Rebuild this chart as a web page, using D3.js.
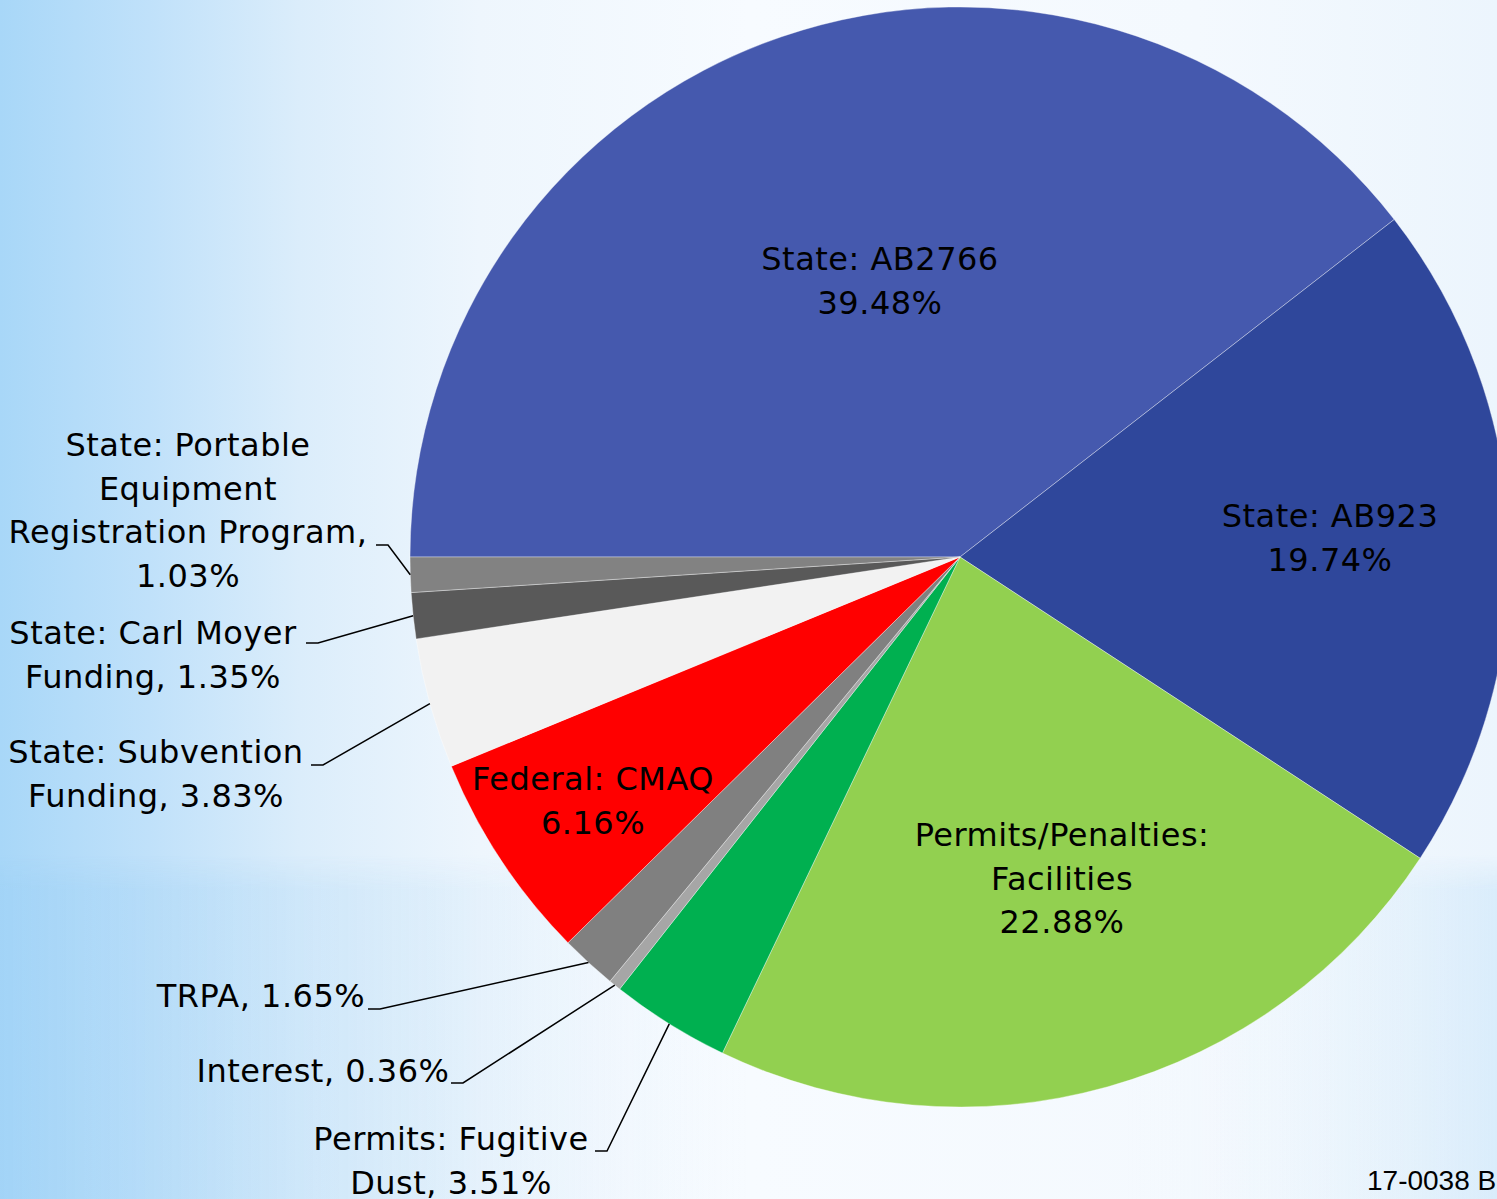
<!DOCTYPE html>
<html>
<head>
<meta charset="utf-8">
<script src="https://cdn.jsdelivr.net/npm/d3@7"></script>
<style>
  html, body { margin: 0; padding: 0; overflow: hidden; }
  svg { display: block; }
</style>
</head>
<body>
<svg width="1497" height="1199"></svg>
<script>
// slice data, clockwise from 9 o'clock
const categories = [
    "State: AB2766",
    "State: AB923",
    "Permits/Penalties: Facilities",
    "Permits: Fugitive Dust",
    "Interest",
    "TRPA",
    "Federal: CMAQ",
    "State: Subvention Funding",
    "State: Carl Moyer Funding",
    "State: Portable Equipment Registration Program"
];
const shares = [39.48, 19.74, 22.88, 3.51, 0.36, 1.65, 6.16, 3.83, 1.35, 1.03];
const colors = ["#4559AE", "#2F479B", "#92D050", "#00B050", "#A6A6A6",
                "#808080", "#FF0000", "#F2F2F2", "#595959", "#828282"];
// label text lines (as shown on the chart)
const labelLines = [
    ["State: AB2766", "39.48%"],
    ["State: AB923", "19.74%"],
    ["Permits/Penalties:", "Facilities", "22.88%"],
    ["Permits: Fugitive", "Dust, 3.51%"],
    ["Interest, 0.36%"],
    ["TRPA, 1.65%"],
    ["Federal: CMAQ", "6.16%"],
    ["State: Subvention", "Funding, 3.83%"],
    ["State: Carl Moyer", "Funding, 1.35%"],
    ["State: Portable", "Equipment", "Registration Program,", "1.03%"]
];

const svg = d3.select("svg");
const width = +svg.attr("width");
const height = +svg.attr("height");

// ---- background ----
const defs = svg.append("defs");
const bg = defs.append("linearGradient").attr("id", "bg").attr("x1", 0).attr("x2", 1).attr("y1", 0).attr("y2", 0);
[[0, "#A8D7F8"], [0.1, "#C0E1FA"], [0.2, "#DBEDFB"], [0.32, "#EEF6FD"], [0.5, "#F7FBFF"], [0.8, "#F4F9FE"], [1, "#ECF5FD"]]
    .forEach(s => bg.append("stop").attr("offset", s[0]).attr("stop-color", s[1]));
const band = defs.append("linearGradient").attr("id", "band").attr("x1", 0).attr("x2", 1).attr("y1", 0).attr("y2", 0);
[[0, "#9ACFF5", 0.4], [0.3, "#B5DBF7", 0.2], [0.5, "#ffffff", 0], [0.75, "#ffffff", 0], [1, "#BFE0F8", 0.4]]
    .forEach(s => band.append("stop").attr("offset", s[0]).attr("stop-color", s[1]).attr("stop-opacity", s[2]));
const fade = defs.append("linearGradient").attr("id", "fade").attr("x1", 0).attr("x2", 0).attr("y1", 0).attr("y2", 1);
[[0, 0], [0.1, 1], [1, 1]].forEach(s => fade.append("stop").attr("offset", s[0]).attr("stop-color", "#fff").attr("stop-opacity", s[1]));
defs.append("mask").attr("id", "fadeMask").attr("maskContentUnits", "objectBoundingBox")
    .append("rect").attr("width", 1).attr("height", 1).attr("fill", "url(#fade)");

svg.append("rect").attr("width", width).attr("height", height).attr("fill", "url(#bg)");
svg.append("rect").attr("y", 855).attr("width", width).attr("height", height - 855)
    .attr("fill", "url(#band)").attr("mask", "url(#fadeMask)");

// ---- pie ----
const cx = 960, cy = 557, radius = 550;

const pie = d3.pie()
    .sort(null)
    .value(d => d)
    .startAngle(-Math.PI / 2)
    .endAngle(Math.PI * 1.5);

const arcs = pie(shares);
const arc = d3.arc().innerRadius(0).outerRadius(radius);

const g = svg.append("g").attr("transform", `translate(${cx},${cy})`);

g.selectAll("path.slice")
    .data(arcs)
    .join("path")
    .attr("class", "slice")
    .attr("d", arc)
    .attr("fill", (d, i) => colors[i])
    .attr("stroke", "#ffffff")
    .attr("stroke-opacity", 0.45)
    .attr("stroke-width", 0.8);

// label placement (text centre x, first line centre y, leader elbow)
const labelLayout = [
    { x: 880, y: 259 },
    { x: 1330, y: 516 },
    { x: 1062, y: 835 },
    { x: 451, y: 1139, elbow: [607, 1151] },
    { x: 323, y: 1071, elbow: [463, 1083] },
    { x: 261, y: 996, elbow: [380, 1009] },
    { x: 593, y: 779 },
    { x: 156, y: 752, elbow: [323, 765] },
    { x: 153, y: 633, elbow: [318, 643] },
    { x: 188, y: 445, elbow: [388, 545] }
];
const lineGap = 43.5;

const labels = svg.append("g")
    .attr("font-family", "'DejaVu Sans', sans-serif")
    .attr("font-size", 32)
    .attr("letter-spacing", 0.5)
    .attr("fill", "#000");

arcs.forEach((d, i) => {
    const lay = labelLayout[i];
    const t = labels.append("text")
        .attr("text-anchor", "middle")
        .attr("x", lay.x)
        .attr("y", lay.y)
        .attr("dominant-baseline", "central");
    labelLines[i].forEach((ln, k) => {
        t.append("tspan").attr("x", lay.x).attr("y", lay.y + k * lineGap).text(ln);
    });

    if (lay.elbow) {
        const mid = (d.startAngle + d.endAngle) / 2;
        const px = cx + radius * Math.sin(mid);
        const py = cy - radius * Math.cos(mid);
        const pts = [[px, py], lay.elbow, [lay.elbow[0] - 12, lay.elbow[1]]];
        svg.append("path")
            .attr("d", d3.line()(pts))
            .attr("fill", "none")
            .attr("stroke", "#000")
            .attr("stroke-width", 1.5);
    }
});

// slide code
svg.append("text")
    .attr("x", 1367)
    .attr("y", 1190)
    .attr("font-family", "'Liberation Sans', Arial, sans-serif")
    .attr("font-size", 28)
    .attr("fill", "#000")
    .text("17-0038 B");
</script>
</body>
</html>
